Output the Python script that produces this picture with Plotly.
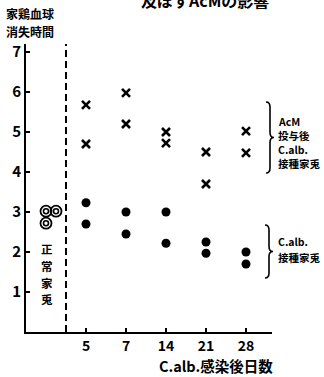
import plotly.graph_objects as go

# Days after C. albicans infection (category labels) and their slot on the x axis
days = ["5", "7", "14", "21", "28"]
day_pos = [1, 2, 3, 4, 5]

# Erythrocyte clearance time, AcM-treated + C.alb.-inoculated rabbits (two per day)
acm_x = [1, 1, 2, 2, 3, 3, 4, 4, 5, 5]
acm_y = [5.68, 4.7, 5.98, 5.2, 5.0, 4.72, 4.5, 3.7, 5.02, 4.48]

# Erythrocyte clearance time, C.alb.-inoculated rabbits (two per day)
calb_x = [1, 1, 2, 2, 3, 3, 4, 4, 5, 5]
calb_y = [3.23, 2.7, 3.0, 2.45, 3.0, 2.22, 2.25, 1.97, 2.0, 1.7]

# Normal rabbits
normal_x = [0.0, 0.25, 0.0]
normal_y = [3.02, 3.02, 2.72]

y_ticks = [1, 2, 3, 4, 5, 6, 7]

FONT = "Noto Sans CJK JP"
W, H = 324, 377
L, R, T, B = 26, 52, 44, 45
X_RANGE = [-0.5, 5.65]
Y_RANGE = [0, 7.2]


def px(x):
    return (x - L) / (W - L - R)


def py(y):
    return (H - B - y) / (H - T - B)


fig = go.Figure()

fig.add_trace(go.Scatter(
    x=acm_x, y=acm_y, mode="markers",
    marker=dict(symbol="x-thin", size=8, color="black",
                line=dict(width=2.6, color="black")),
    cliponaxis=False, showlegend=False))

fig.add_trace(go.Scatter(
    x=calb_x, y=calb_y, mode="markers",
    marker=dict(symbol="circle", size=9, color="black"),
    cliponaxis=False, showlegend=False))

# normal rabbits: double-ring markers
fig.add_trace(go.Scatter(
    x=normal_x, y=normal_y, mode="markers",
    marker=dict(symbol="circle-open", size=11, color="black",
                line=dict(width=1.8, color="black")),
    cliponaxis=False, showlegend=False))
fig.add_trace(go.Scatter(
    x=normal_x, y=normal_y, mode="markers",
    marker=dict(symbol="circle-open", size=5, color="black",
                line=dict(width=1.6, color="black")),
    cliponaxis=False, showlegend=False))

# divider between normal and infected groups
fig.add_shape(type="line", xref="x", yref="y", x0=0.5, x1=0.5, y0=0, y1=7.2,
              line=dict(color="black", width=2, dash="7px,4px"))


def brace(x0, y_top, y_bot, w=4, tip=4):
    ym = (y_top + y_bot) / 2
    pts = [
        f"M{px(x0)},{py(y_top)}",
        f"Q{px(x0 + w)},{py(y_top)} {px(x0 + w)},{py(y_top + 5)}",
        f"L{px(x0 + w)},{py(ym - 5)}",
        f"Q{px(x0 + w)},{py(ym)} {px(x0 + w + tip)},{py(ym)}",
        f"Q{px(x0 + w)},{py(ym)} {px(x0 + w)},{py(ym + 5)}",
        f"L{px(x0 + w)},{py(y_bot - 5)}",
        f"Q{px(x0 + w)},{py(y_bot)} {px(x0)},{py(y_bot)}",
    ]
    fig.add_shape(type="path", xref="paper", yref="paper", path=" ".join(pts),
                  line=dict(color="black", width=1.6))


brace(266, 102, 173)
brace(265, 225, 278)


def label(text, x, y, size=12, xanchor="left", yanchor="middle"):
    fig.add_annotation(text=text, x=px(x), y=py(y), xref="paper", yref="paper",
                       showarrow=False, xanchor=xanchor, yanchor=yanchor,
                       borderpad=0,
                       font=dict(family=FONT, size=size, color="black", weight="bold"))


for txt, yy in [("AcM", 121), ("投与後", 135), ("C.alb.", 149), ("接種家兎", 163)]:
    label(txt, 277, yy, size=10.5)
for txt, yy in [("C.alb.", 241), ("接種家兎", 257)]:
    label(txt, 277, yy, size=10.5)

# y-axis title
label("家鶏血球", 5, 13, size=12)
label("消失時間", 5, 32, size=12)

# vertical label for the normal group
for txt, yy in zip("正常家兎", [249, 266, 283, 299]):
    label(txt, 47, yy, size=11.5, xanchor="center")

# x-axis title
label("C.alb.感染後日数", 216, 365, size=14.5, xanchor="center")

# heading, running off the top edge
label("及ぼすAcMの影響", 205, 0, size=16, xanchor="center")

fig.update_xaxes(
    range=X_RANGE, tickvals=day_pos, ticktext=days,
    showgrid=False, zeroline=False, showline=True, linecolor="black", linewidth=2,
    ticks="inside", ticklen=4, tickwidth=1.5, tickcolor="black",
    tickfont=dict(family=FONT, size=14, color="black", weight="bold"))
fig.update_yaxes(
    range=Y_RANGE, tickvals=y_ticks,
    showgrid=False, zeroline=False, showline=True, linecolor="black", linewidth=2,
    ticks="inside", ticklen=4, tickwidth=1.5, tickcolor="black",
    tickfont=dict(family=FONT, size=15, color="black", weight="bold"))

fig.update_layout(
    width=W, height=H,
    margin=dict(l=L, r=R, t=T, b=B),
    paper_bgcolor="white", plot_bgcolor="white",
    showlegend=False)

fig.write_html("out.html")
